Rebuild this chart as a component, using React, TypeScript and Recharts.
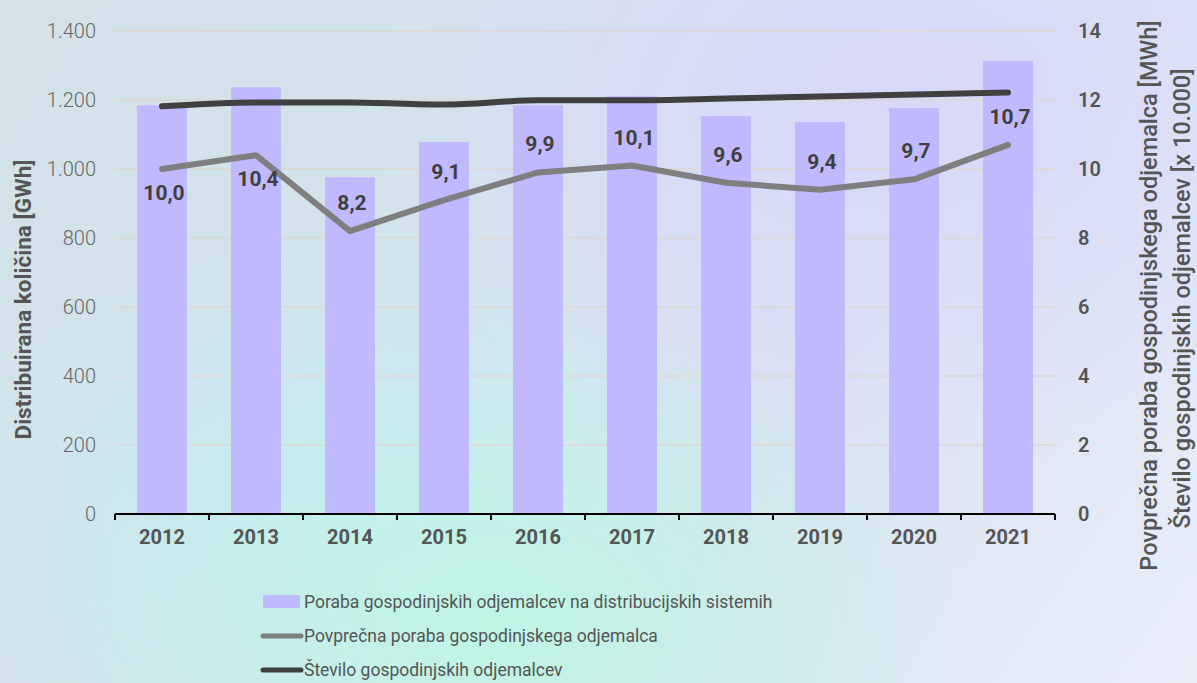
import React from "react";
import {
  ComposedChart,
  Bar,
  Line,
  XAxis,
  YAxis,
  CartesianGrid,
  LabelList,
} from "recharts";

const years = ["2012", "2013", "2014", "2015", "2016", "2017", "2018", "2019", "2020", "2021"];
const consumptionGWh = [1185, 1237, 976, 1078, 1185, 1211, 1153, 1136, 1176, 1313];
const avgConsumptionMWh = [10.0, 10.4, 8.2, 9.1, 9.9, 10.1, 9.6, 9.4, 9.7, 10.7];
const customers10k = [11.82, 11.93, 11.93, 11.87, 11.99, 11.99, 12.04, 12.1, 12.16, 12.22];

const leftTicks = [0, 200, 400, 600, 800, 1000, 1200, 1400];
const rightTicks = [0, 2, 4, 6, 8, 10, 12, 14];
const edgeTicks = [0, 1, 2, 3, 4, 5, 6, 7, 8, 9, 10];

const seriesNames = {
  bar: "Poraba gospodinjskih odjemalcev na distribucijskih sistemih",
  avg: "Povprečna poraba gospodinjskega odjemalca",
  cust: "Število gospodinjskih odjemalcev",
};
const leftTitle = "Distribuirana količina [GWh]";
const rightTitle1 = "Povprečna poraba gospodinjskega odjemalca  [MWh]";
const rightTitle2 = "Število gospodinjskih odjemalcev [x 10.000]";

const colors = { bar: "#c1b9ff", avg: "#7f7f7f", cust: "#404040" };

const data = years.map((y, i) => ({
  year: y,
  idx: i + 0.5,
  consumption: consumptionGWh[i],
  avg: avgConsumptionMWh[i],
  cust: customers10k[i],
}));

const FONT = "Roboto, 'DejaVu Sans', sans-serif";
const EDGE = "a_edges";
const CAT = "b_cat";

const fmtThousands = (v: number) => String(v).replace(/\B(?=(\d{3})+(?!\d))/g, ".");
const fmtDec = (v: number) => v.toFixed(1).replace(".", ",");

const AvgLabel = (props: any) => {
  const { x, y, value, index } = props;
  const dy = index < 2 ? 24 : -28;
  return (
    <text
      x={x + 2}
      y={y + dy}
      textAnchor="middle"
      dominantBaseline="central"
      fontFamily={FONT}
      fontSize={21}
      fontWeight={700}
      fill="#3f3f3f"
    >
      {fmtDec(value)}
    </text>
  );
};

const LeftTitle = (props: any) => {
  const vb = props.viewBox || {};
  const cx = (vb.x || 0) + 23;
  const cy = (vb.y || 0) + (vb.height || 0) / 2 + 27;
  return (
    <text
      x={cx}
      y={cy}
      transform={`rotate(-90 ${cx} ${cy})`}
      textAnchor="middle"
      dominantBaseline="central"
      fontFamily={FONT}
      fontSize={22.5}
      fontWeight={700}
      fill="#555"
    >
      {leftTitle}
    </text>
  );
};

const RightTitle = (props: any) => {
  const vb = props.viewBox || {};
  const mid = (vb.y || 0) + (vb.height || 0) / 2;
  const cy1 = mid + 23;
  const cy2 = mid + 26;
  const x1 = (vb.x || 0) + 94;
  const x2 = (vb.x || 0) + 127;
  return (
    <g fontFamily={FONT} fontSize={23.5} fontWeight={500} fill="#555" textAnchor="middle">
      <text x={x1} y={cy1} dominantBaseline="central" transform={`rotate(-90 ${x1} ${cy1})`}>
        {rightTitle1}
      </text>
      <text x={x2} y={cy2} dominantBaseline="central" transform={`rotate(-90 ${x2} ${cy2})`}>
        {rightTitle2}
      </text>
    </g>
  );
};

const NoTick = () => <g />;

const legendItems = [
  { name: seriesNames.bar, color: colors.bar, kind: "rect" },
  { name: seriesNames.avg, color: colors.avg, kind: "line" },
  { name: seriesNames.cust, color: colors.cust, kind: "line" },
];

export default function App() {
  return (
    <div
      style={{
        position: "fixed",
        left: 0,
        top: 0,
        width: 1197,
        height: 683,
        overflow: "hidden",
        background:
          "radial-gradient(ellipse 40% 45% at 42% 92%, rgba(190,246,228,0.95), rgba(190,246,228,0) 100%)," +
          "radial-gradient(ellipse 35% 40% at 30% 75%, rgba(195,236,246,0.8), rgba(195,236,246,0) 100%)," +
          "radial-gradient(ellipse 45% 55% at 75% 15%, rgba(216,216,250,0.95), rgba(216,216,250,0) 100%)," +
          "linear-gradient(125deg, #d3e2e9 0%, #d3e3eb 35%, #d9e3f1 65%, #e9eef9 100%)",
      }}
    >
      <ComposedChart
        width={1197}
        height={683}
        data={data}
        margin={{ top: 31, right: 0, left: 0, bottom: 130 }}
      >
        <CartesianGrid
          yAxisId="left"
          xAxisId={CAT}
          vertical={false}
          stroke="#dcd8d3"
          strokeWidth={1.5}
        />
        <XAxis
          xAxisId={EDGE}
          type="number"
          dataKey="idx"
          domain={[0, 10]}
          ticks={edgeTicks}
          tick={<NoTick />}
          tickSize={6}
          height={1}
          axisLine={{ stroke: "#000", strokeWidth: 2 }}
          tickLine={{ stroke: "#000", strokeWidth: 2 }}
        />
        <XAxis
          xAxisId={CAT}
          dataKey="year"
          height={38}
          axisLine={false}
          tickLine={false}
          tickSize={0}
          tickMargin={15}
          tick={{ fontFamily: FONT, fontSize: 20, fontWeight: 700, fill: "#555" }}
          interval={0}
        />
        <YAxis
          yAxisId="left"
          width={115}
          domain={[0, 1400]}
          ticks={leftTicks}
          tickFormatter={fmtThousands}
          axisLine={false}
          tickLine={false}
          tickSize={0}
          tickMargin={19}
          tick={{ fontFamily: FONT, fontSize: 20, fontWeight: 300, fill: "#666" }}
          label={<LeftTitle />}
        />
        <YAxis
          yAxisId="right"
          orientation="right"
          width={142}
          domain={[0, 14]}
          ticks={rightTicks}
          axisLine={false}
          tickLine={false}
          tickSize={0}
          tickMargin={23}
          tick={{ fontFamily: FONT, fontSize: 20, fontWeight: 600, fill: "#555", textAnchor: "start" }}
          label={<RightTitle />}
        />
        <Bar
          xAxisId={CAT}
          yAxisId="left"
          dataKey="consumption"
          name={seriesNames.bar}
          fill={colors.bar}
          barSize={50}
          isAnimationActive={false}
        />
        <Line
          xAxisId={CAT}
          yAxisId="right"
          dataKey="avg"
          name={seriesNames.avg}
          type="linear"
          stroke={colors.avg}
          strokeWidth={6}
          strokeLinecap="round"
          strokeLinejoin="round"
          dot={false}
          activeDot={false}
          isAnimationActive={false}
        >
          <LabelList dataKey="avg" content={<AvgLabel />} />
        </Line>
        <Line
          xAxisId={CAT}
          yAxisId="right"
          dataKey="cust"
          name={seriesNames.cust}
          type="monotone"
          stroke={colors.cust}
          strokeWidth={6}
          strokeLinecap="round"
          strokeLinejoin="round"
          dot={false}
          activeDot={false}
          isAnimationActive={false}
        />
      </ComposedChart>
      <div
        style={{
          position: "absolute",
          left: 260,
          top: 585,
          fontFamily: FONT,
          fontSize: 17.5,
          color: "#555",
        }}
      >
        {legendItems.map((it) => (
          <div key={it.name} style={{ display: "flex", alignItems: "center", height: 34 }}>
            <svg width={44} height={16} style={{ display: "block" }}>
              {it.kind === "rect" ? (
                <rect x={3} y={1} width={37} height={13} fill={it.color} />
              ) : (
                <line x1={3} y1={8} x2={41} y2={8} stroke={it.color} strokeWidth={5} strokeLinecap="round" />
              )}
            </svg>
            <span style={{ whiteSpace: "nowrap" }}>{it.name}</span>
          </div>
        ))}
      </div>
    </div>
  );
}
